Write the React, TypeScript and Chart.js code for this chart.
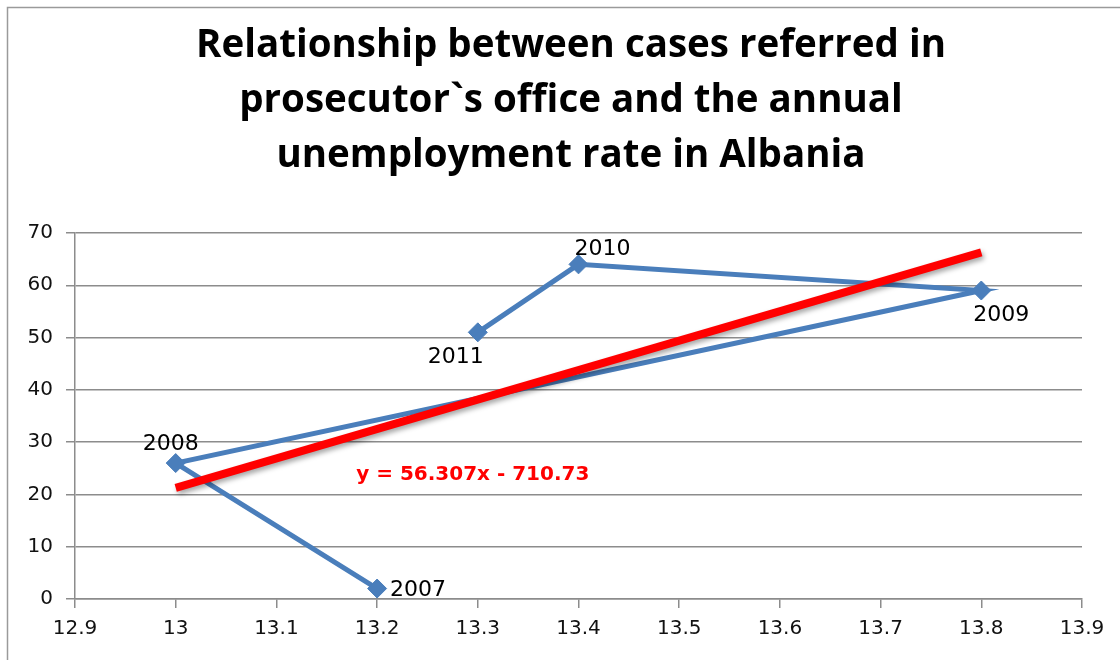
import React, { useEffect, useRef } from "react";
import { Chart, registerables } from "chart.js";

Chart.register(...registerables);

const titleLines = [
  "Relationship between cases referred in",
  "prosecutor`s office and the annual",
  "unemployment rate in Albania",
];
const years = ["2007", "2008", "2009", "2010", "2011"];
const unemployment = [13.2, 13.0, 13.8, 13.4, 13.3];
const cases = [2, 26, 59, 64, 51];
const slope = 56.307;
const intercept = -710.73;
const trendX = [13.0, 13.8];
const equationText = "y = 56.307x - 710.73";
const equationAt = { x: 13.295, y: 22.75 };
const xTickMin = 12.9;
const xTickMax = 13.9;
const yTickMin = 0;
const yTickMax = 70;

// label offsets (px) relative to each point: [dx, dy baseline, align]
const labelOffsets: [number, number, CanvasTextAlign][] = [
  [13, 7, "left"],
  [-5, -13, "center"],
  [20, 30, "center"],
  [24, -9, "center"],
  [-22, 31, "center"],
];

const TITLE_FONT = "bold 38.5px 'Open Sans', sans-serif";
const TICK_FONT = "'DejaVu Sans', sans-serif";
const LABEL_FONT = "22px 'DejaVu Sans', sans-serif";
const EQ_FONT = "bold 20px 'DejaVu Sans', sans-serif";

export default function App() {
  const ref = useRef<HTMLCanvasElement | null>(null);

  useEffect(() => {
    document.body.style.margin = "0";
    const canvas = ref.current!;
    const decor = {
      id: "decor",
      beforeDraw(chart: any) {
        const ctx = chart.ctx;
        ctx.save();
        ctx.fillStyle = "#ffffff";
        ctx.fillRect(0, 0, chart.width, chart.height);
        ctx.strokeStyle = "#9a9a9a";
        ctx.lineWidth = 1.5;
        ctx.beginPath();
        ctx.moveTo(7.5, chart.height);
        ctx.lineTo(7.5, 7.5);
        ctx.lineTo(chart.width, 7.5);
        ctx.stroke();
        ctx.fillStyle = "#000";
        ctx.textAlign = "center";
        ctx.textBaseline = "alphabetic";
        ctx.font = TITLE_FONT;
        const cx = 571;
        titleLines.forEach((t, i) => ctx.fillText(t, cx, 57 + i * 55));
        ctx.restore();
      },
      beforeDatasetDraw(chart: any, args: any) {
        if (args.index === 0) {
          const ctx = chart.ctx;
          ctx.save();
          ctx.shadowColor = "rgba(0,0,0,0.35)";
          ctx.shadowBlur = 5;
          ctx.shadowOffsetX = 2;
          ctx.shadowOffsetY = 3;
        }
      },
      afterDatasetDraw(chart: any, args: any) {
        if (args.index === 0) chart.ctx.restore();
      },
      afterDraw(chart: any) {
        const ctx = chart.ctx;
        const xs = chart.scales.x;
        const ys = chart.scales.y;
        ctx.save();
        ctx.font = LABEL_FONT;
        ctx.fillStyle = "#000";
        ctx.textBaseline = "alphabetic";
        years.forEach((yr, i) => {
          const px = xs.getPixelForValue(unemployment[i]);
          const py = ys.getPixelForValue(cases[i]);
          const [dx, dy, align] = labelOffsets[i];
          ctx.textAlign = align;
          ctx.fillText(yr, px + dx, py + dy);
        });
        ctx.font = EQ_FONT;
        ctx.fillStyle = "#ff0000";
        ctx.textAlign = "center";
        ctx.fillText(
          equationText,
          xs.getPixelForValue(equationAt.x),
          ys.getPixelForValue(equationAt.y)
        );
        ctx.restore();
      },
    };

    const chart = new Chart(canvas, {
      type: "scatter",
      data: {
        datasets: [
          {
            label: "Linear trend",
            data: trendX.map((x) => ({ x, y: slope * x + intercept })),
            showLine: true,
            borderColor: "#ff0000",
            borderWidth: 8,
            pointRadius: 0,
            borderCapStyle: "butt",
            order: 0,
          },
          {
            label: "Cases",
            data: unemployment.map((x, i) => ({ x, y: cases[i] })),
            showLine: true,
            borderColor: "#4a7ebb",
            backgroundColor: "#4a7ebb",
            borderWidth: 5,
            pointStyle: "rectRot",
            pointRadius: 9.5,
            pointBorderWidth: 1,
            order: 1,
          },
        ],
      },
      options: {
        animation: false,
        responsive: false,
        maintainAspectRatio: false,
        layout: { padding: { left: 0, right: 38, top: 233, bottom: 0 } },
        plugins: {
          legend: { display: false },
          title: { display: false },
          tooltip: { enabled: false },
        },
        scales: {
          x: {
            type: "linear",
            min: xTickMin,
            max: xTickMax,
            ticks: {
              stepSize: 0.1,
              color: "#111",
              font: { family: TICK_FONT, size: 20 },
              padding: 9,
              callback: (v: any) => String(Math.round(Number(v) * 10) / 10),
            },
            grid: {
              drawOnChartArea: false,
              drawTicks: true,
              tickLength: 9,
              color: "#8c8c8c",
              lineWidth: 1.5,
            },
            border: { display: true, color: "#8c8c8c", width: 1.5 },
            afterFit: (s: any) => {
              s.height = 61;
            },
          },
          y: {
            min: yTickMin,
            max: yTickMax,
            ticks: {
              stepSize: 10,
              color: "#111",
              font: { family: TICK_FONT, size: 20 },
              padding: 13,
            },
            grid: {
              color: "#8c8c8c",
              lineWidth: 1.5,
              tickLength: 9,
            },
            border: { display: true, color: "#8c8c8c", width: 1.5 },
            afterFit: (s: any) => {
              s.width = 75;
            },
          },
        },
      },
      plugins: [decor],
    } as any);
    return () => chart.destroy();
  }, []);

  return (
    <div style={{ width: 1120, height: 660 }}>
      <canvas ref={ref} width={1120} height={660} style={{ display: "block" }} />
    </div>
  );
}
